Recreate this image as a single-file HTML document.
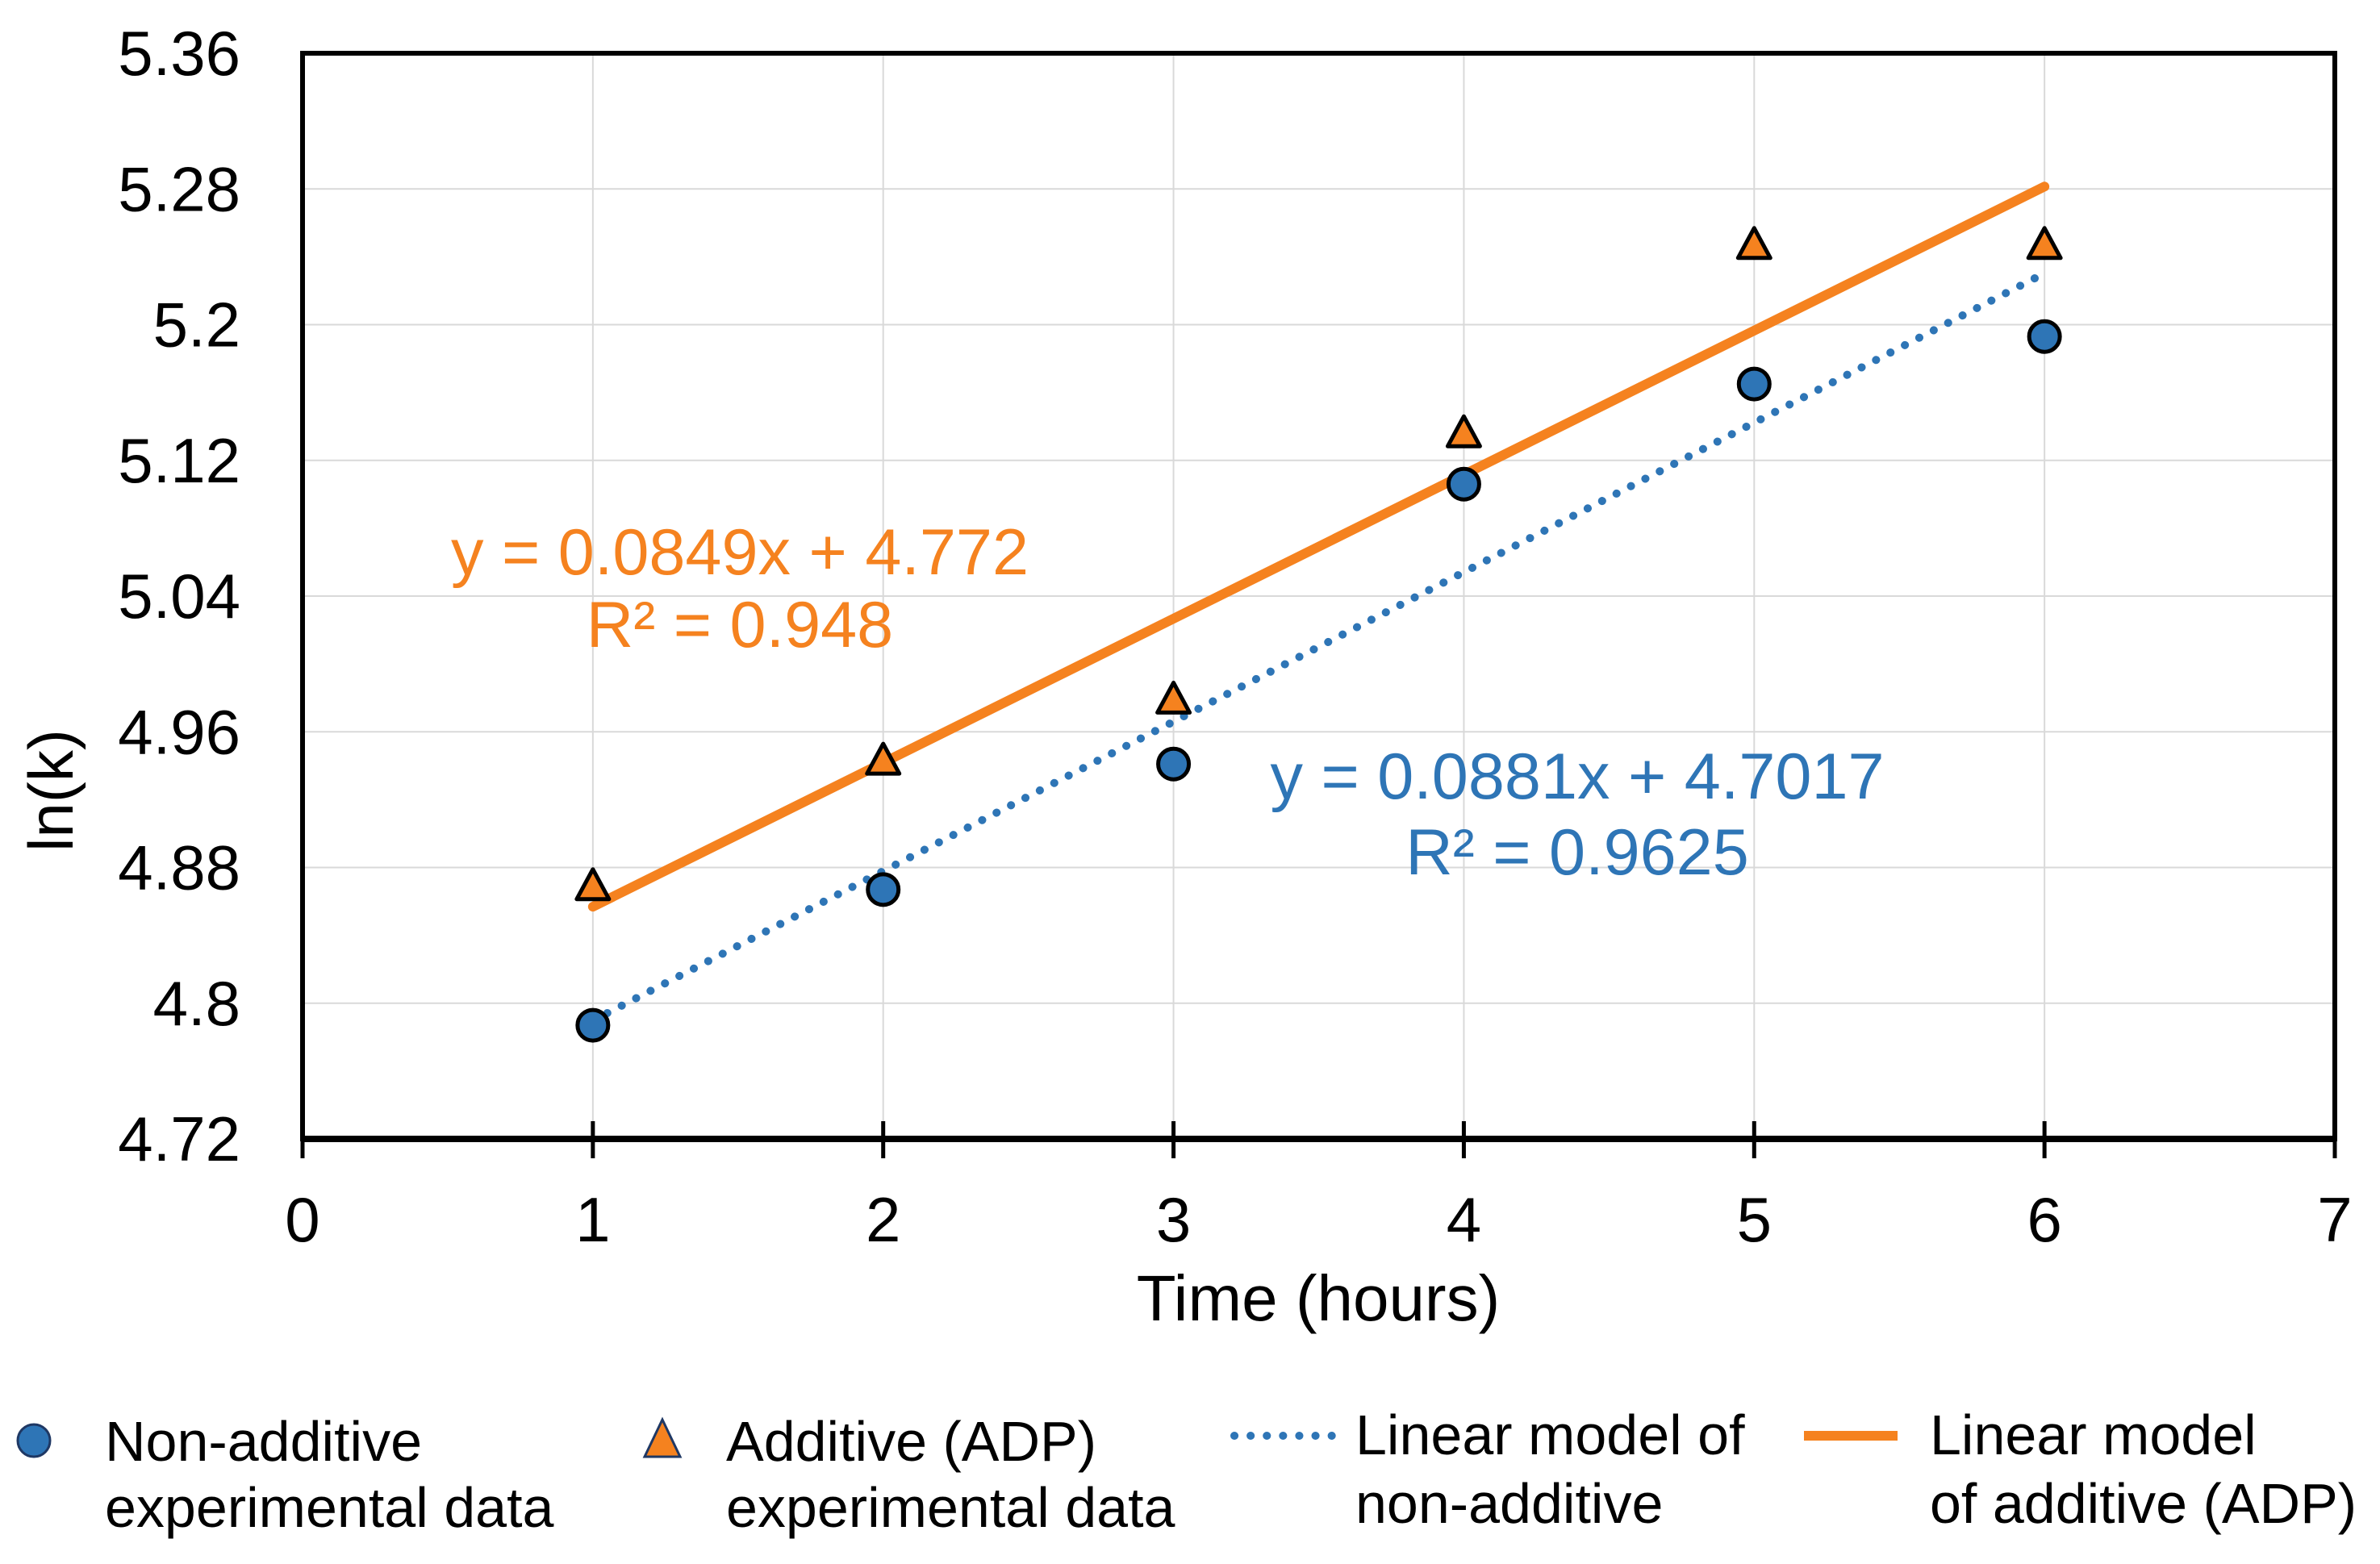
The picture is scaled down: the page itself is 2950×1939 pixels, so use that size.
<!DOCTYPE html>
<html><head><meta charset="utf-8"><style>
html,body{margin:0;padding:0;background:#fff;}
svg{display:block;font-family:"Liberation Sans",Arial,sans-serif;}
</style></head><body>
<svg id="chart" width="2950" height="1939" viewBox="0 0 2950 1939" xmlns="http://www.w3.org/2000/svg">
<g id="grid"></g>
<g id="series"></g>
<g id="axes"></g>
<text x="917" y="712" font-size="81" fill="#F5821F" text-anchor="middle">y = 0.0849x + 4.772</text>
<text x="917" y="802" font-size="81" fill="#F5821F" text-anchor="middle">R² = 0.948</text>
<text x="1955" y="990" font-size="81" fill="#2E75B6" text-anchor="middle">y = 0.0881x + 4.7017</text>
<text x="1955" y="1084" font-size="81" fill="#2E75B6" text-anchor="middle">R² = 0.9625</text>
<text x="1634" y="1637" font-size="80" fill="#000" text-anchor="middle">Time (hours)</text>
<text transform="translate(90,980) rotate(-90)" font-size="78" fill="#000" text-anchor="middle">ln(k)</text>
<g font-size="70" fill="#000">
 <g>
  <circle cx="42" cy="1786" r="20" fill="#2E75B6" stroke="#1F3864" stroke-width="3"/>
  <text x="130" y="1811">Non-additive</text><text x="130" y="1893">experimental data</text>
 </g>
 <g>
  <polygon points="821,1760 843,1806 799,1806" fill="#F5821F" stroke="#1F3864" stroke-width="3"/>
  <text x="900" y="1811">Additive (ADP)</text><text x="900" y="1893">experimental data</text>
 </g>
 <g>
  <line x1="1530" y1="1780" x2="1660" y2="1780" stroke="#2E75B6" stroke-width="10" stroke-dasharray="0.1 20" stroke-linecap="round"/>
  <text x="1680" y="1803">Linear model of</text><text x="1680" y="1888">non-additive</text>
 </g>
 <g>
  <line x1="2236" y1="1780" x2="2352" y2="1780" stroke="#F5821F" stroke-width="12"/>
  <text x="2392" y="1803">Linear model</text><text x="2392" y="1888">of additive (ADP)</text>
 </g>
</g>
</svg>
<script>
const xTicks = [0,1,2,3,4,5,6,7];
const yTicks = [4.72,4.8,4.88,4.96,5.04,5.12,5.2,5.28,5.36];
const yTickLabels = ["4.72","4.8","4.88","4.96","5.04","5.12","5.2","5.28","5.36"];
const hours = [1,2,3,4,5,6];
const nonAdditive = [4.787,4.867,4.941,5.106,5.165,5.193];
const additive = [4.868,4.942,4.978,5.135,5.246,5.246];
const fitNonAdd = [0.0881,4.7017];
const fitAdd = [0.0849,4.772];

const L=375,R=2894,T=66,B=1412;
const NS="http://www.w3.org/2000/svg";
function sx(v){return L+(v-0)/(7-0)*(R-L);}
function sy(v){return B-(v-4.72)/(5.36-4.72)*(B-T);}
function mk(tag,attrs,parent){const e=document.createElementNS(NS,tag);for(const k in attrs)e.setAttribute(k,attrs[k]);parent.appendChild(e);return e;}
const grid=document.getElementById('grid'),axes=document.getElementById('axes'),ser=document.getElementById('series');

yTicks.forEach((v,i)=>{
  if(i>0){const g=mk('line',{x1:L,x2:R,y1:sy(v),y2:sy(v),stroke:'#d9d9d9','stroke-width':2},grid);
  
  }
  const t=mk('text',{x:298,y:sy(v)+27,'font-size':78,'text-anchor':'end',fill:'#000'},axes);
  t.textContent=yTickLabels[i];
  
  
});
xTicks.forEach(v=>{
  if(v>0&&v<7){const g=mk('line',{x1:sx(v),x2:sx(v),y1:T,y2:B,stroke:'#d9d9d9','stroke-width':2},grid);
  
  }
  const tk=mk('line',{x1:sx(v),x2:sx(v),y1:B-22,y2:B+24,stroke:'#000','stroke-width':5},axes);
  
  
  const t=mk('text',{x:sx(v),y:B+127,'font-size':78,'text-anchor':'middle',fill:'#000'},axes);
  t.textContent=String(v);
  
  
});
const frame=mk('rect',{x:L,y:T,width:R-L,height:B-T,fill:'none',stroke:'#000','stroke-width':6},axes);


const bx=mk('line',{x1:L,x2:R,y1:B,y2:B,stroke:'#000','stroke-width':8},axes);



const x0=hours[0],x1=hours[hours.length-1];
const fo=mk('line',{x1:sx(x0),y1:sy(fitAdd[0]*x0+fitAdd[1]),x2:sx(x1),y2:sy(fitAdd[0]*x1+fitAdd[1]),stroke:'#F5821F','stroke-width':12,'stroke-linecap':'round'},ser);


const fb=mk('line',{x1:sx(x0),y1:sy(fitNonAdd[0]*x0+fitNonAdd[1]),x2:sx(x1),y2:sy(fitNonAdd[0]*x1+fitNonAdd[1]),stroke:'#2E75B6','stroke-width':10,'stroke-dasharray':'0.1 20','stroke-linecap':'round'},ser);



hours.forEach((h,i)=>{
  const c=mk('circle',{cx:sx(h),cy:sy(nonAdditive[i]),r:19,fill:'#2E75B6',stroke:'#000','stroke-width':5},ser);
  
  
  const x=sx(h),y=sy(additive[i]);
  const p=mk('polygon',{points:`${x},${y-23} ${x+20},${y+14} ${x-20},${y+14}`,fill:'#F5821F',stroke:'#000','stroke-width':5,'stroke-linejoin':'round'},ser);
  
  
});
</script>
</body></html>
